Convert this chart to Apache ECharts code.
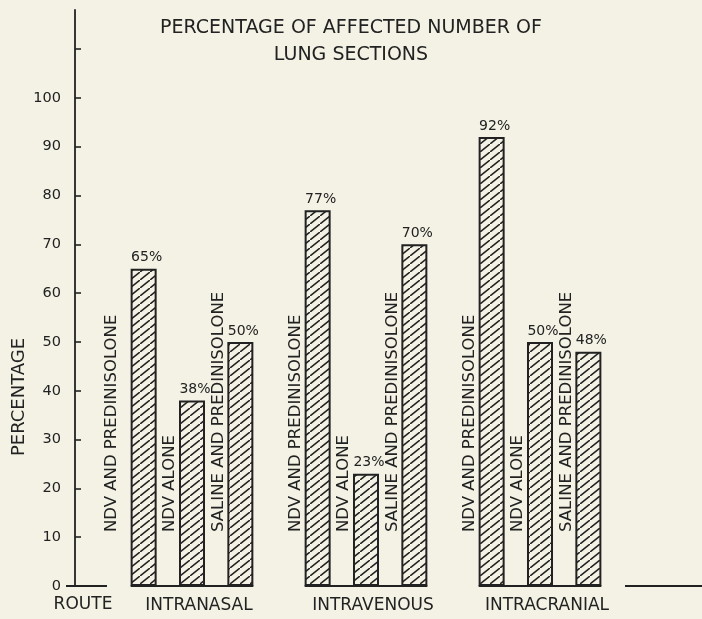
<!DOCTYPE html>
<html>
<head>
<meta charset="utf-8">
<script src="https://cdn.jsdelivr.net/npm/echarts@6/dist/echarts.min.js"></script>
<style>
  html, body { margin: 0; padding: 0; background: #f3f2e5; }
  #chart { width: 702px; height: 619px; }
</style>
</head>
<body>
<div id="chart"></div>
<script>
// ---- data ----
const routes = ['INTRANASAL', 'INTRAVENOUS', 'INTRACRANIAL'];
const treatments = ['NDV AND PREDINISOLONE', 'NDV ALONE', 'SALINE AND PREDINISOLONE'];
const ndvPred = [65, 77, 92];
const ndvAlone = [38, 23, 50];
const salinePred = [50, 70, 48];
const yTickValues = [0, 10, 20, 30, 40, 50, 60, 70, 80, 90, 100, 110];
const yLabelValues = [0, 10, 20, 30, 40, 50, 60, 70, 80, 90, 100];
const titleLines = ['PERCENTAGE OF AFFECTED NUMBER OF', 'LUNG SECTIONS'];
const yName = 'PERCENTAGE';
const xName = 'ROUTE';

// ---- style / layout ----
const INK = '#222';
const PAPER = '#f3f2e5';
const FONT = '"DejaVu Sans", sans-serif';
const BAR_W = 26;
const BAR_GAP = 0.86;
const PITCH = BAR_W * (1 + BAR_GAP);

function hatch() {
  const W = 10, H = 8;
  const c = document.createElement('canvas');
  c.width = W; c.height = H;
  const g = c.getContext('2d');
  g.fillStyle = PAPER;
  g.fillRect(0, 0, W, H);
  g.strokeStyle = INK;
  g.lineWidth = 1.6;
  [[0, 0], [-W, H], [W, -H]].forEach(([dx, dy]) => {
    g.beginPath();
    g.moveTo(dx, H + dy);
    g.lineTo(W + dx, dy);
    g.stroke();
  });
  return { image: c, repeat: 'repeat' };
}
const pattern = hatch();

const seriesValues = [ndvPred, ndvAlone, salinePred];

const barSeries = seriesValues.map((vals, s) => ({
  type: 'bar',
  name: treatments[s],
  data: vals,
  barWidth: BAR_W,
  barGap: (BAR_GAP * 100) + '%',
  itemStyle: { color: pattern, borderColor: INK, borderWidth: 2 },
  label: {
    show: true,
    position: 'top',
    distance: 4,
    offset: [3, 0],
    formatter: p => p.value + '%',
    color: INK,
    fontFamily: FONT,
    fontSize: 14
  },
  silent: true,
  z: 2
}));

const nameData = [];
routes.forEach((r, g) => treatments.forEach((t, s) => nameData.push([g, 0, s])));

const nameSeries = {
  type: 'custom',
  coordinateSystem: 'cartesian2d',
  encode: { x: 0, y: 1 },
  data: nameData,
  silent: true,
  z: 3,
  renderItem(params, api) {
    const g = api.value(0), s = api.value(2);
    const c = api.coord([g, 0]);
    let dx = -9;
    if (g === 0 && s === 0) dx = -19;
    const x = c[0] + (s - 1) * PITCH - BAR_W / 2 + dx;
    const y = c[1] - 54;
    return {
      type: 'text',
      x: x, y: y,
      rotation: Math.PI / 2,
      style: {
        text: treatments[s],
        x: 0, y: 0,
        align: 'left',
        verticalAlign: 'middle',
        fill: INK,
        font: '16.5px ' + FONT
      }
    };
  }
};

const baseSeries = {
  type: 'custom',
  coordinateSystem: 'cartesian2d',
  encode: { x: 0, y: 1 },
  data: routes.map((r, i) => [i, 0]),
  silent: true,
  z: 4,
  renderItem(params, api) {
    const c = api.coord([api.value(0), 0]);
    const half = PITCH + BAR_W / 2;
    return {
      type: 'line',
      shape: { x1: c[0] - half, y1: c[1], x2: c[0] + half, y2: c[1] },
      style: { stroke: INK, lineWidth: 2 }
    };
  }
};

const chart = echarts.init(document.getElementById('chart'));
chart.setOption({
  backgroundColor: PAPER,
  animation: false,
  title: {
    text: titleLines.join('\n'),
    left: 'center',
    top: 10,
    textStyle: { color: INK, fontFamily: FONT, fontSize: 19, fontWeight: 'normal', lineHeight: 27 }
  },
  grid: { left: 105, right: 75, top: 10, bottom: 33, containLabel: false },
  xAxis: {
    type: 'category',
    data: routes,
    axisLine: { show: false },
    axisTick: { show: false },
    axisLabel: {
      color: INK, fontFamily: FONT, fontSize: 17, margin: 11,
      padding: [0, 0, 0, 14]
    }
  },
  yAxis: {
    type: 'value',
    min: 0,
    max: 118,
    interval: 10,
    offset: 30,
    splitLine: { show: false },
    axisLine: { show: true, lineStyle: { color: INK, width: 1.8 } },
    axisTick: { show: true, inside: true, length: 6, lineStyle: { color: INK, width: 1.6 }, customValues: yTickValues },
    axisLabel: { color: INK, fontFamily: FONT, fontSize: 14.5, margin: 14, customValues: yLabelValues }
  },
  graphic: [
    { type: 'line', shape: { x1: 66, y1: 586, x2: 107, y2: 586 }, style: { stroke: INK, lineWidth: 1.8 } },
    { type: 'line', shape: { x1: 625, y1: 586, x2: 702, y2: 586 }, style: { stroke: INK, lineWidth: 1.8 } },
    { type: 'text', x: 19, y: 397, rotation: Math.PI / 2,
      style: { text: yName, align: 'center', verticalAlign: 'middle', fill: INK, font: '18px ' + FONT } },
    { type: 'text', x: 83, y: 605,
      style: { text: xName, align: 'center', verticalAlign: 'middle', fill: INK, font: '17px ' + FONT } }
  ],
  series: [...barSeries, nameSeries, baseSeries]
});
</script>
</body>
</html>
